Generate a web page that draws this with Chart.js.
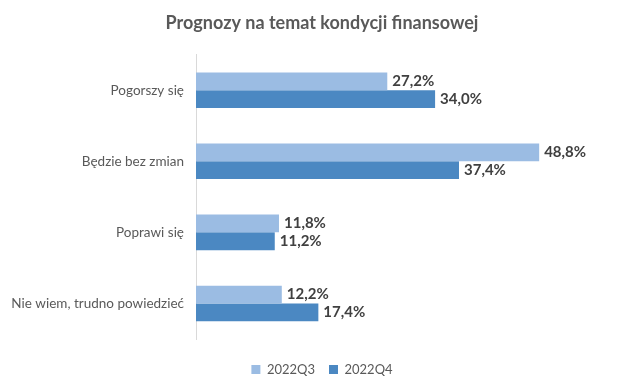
<!DOCTYPE html>
<html>
<head>
<meta charset="utf-8">
<script src="https://cdn.jsdelivr.net/npm/chart.js@4"></script>
<style>
  html, body { margin: 0; padding: 0; background: #fff; }
  #wrap { width: 640px; height: 392px; }
</style>
</head>
<body>
<div id="wrap"><canvas id="chart"></canvas></div>
<script>
// dane
const categories = ['Pogorszy się', 'Będzie bez zmian', 'Poprawi się', 'Nie wiem, trudno powiedzieć'];
const seriesNames = ['2022Q3', '2022Q4'];
const q3Values = [27.2, 48.8, 11.8, 12.2];
const q4Values = [34.0, 37.4, 11.2, 17.4];

const fmt = v => v.toFixed(1).replace('.', ',') + '%';

// etykiety wartości na końcu słupków
const valueLabels = {
  id: 'valueLabels',
  afterDatasetsDraw(chart) {
    const ctx = chart.ctx;
    ctx.save();
    ctx.font = 'bold 15px Lato, sans-serif';
    ctx.fillStyle = '#404040';
    ctx.textAlign = 'left';
    ctx.textBaseline = 'middle';
    chart.data.datasets.forEach((ds, i) => {
      chart.getDatasetMeta(i).data.forEach((bar, j) => {
        ctx.fillText(fmt(ds.data[j]), bar.x + 5, bar.y);
      });
    });
    ctx.restore();
  }
};

new Chart(document.getElementById('chart'), {
  type: 'bar',
  data: {
    labels: categories,
    datasets: [
      { label: seriesNames[0], data: q3Values, backgroundColor: '#9bbce3' },
      { label: seriesNames[1], data: q4Values, backgroundColor: '#4b88c2' }
    ]
  },
  options: {
    indexAxis: 'y',
    responsive: true,
    maintainAspectRatio: false,
    animation: false,
    layout: { padding: { left: 12, right: 8, top: 6, bottom: 6 } },
    datasets: { bar: { categoryPercentage: 0.5, barPercentage: 1.0 } },
    scales: {
      x: {
        min: 0,
        max: 62,
        display: true,
        afterFit(scale) { scale.height = 10; },
        grid: { display: false },
        border: { display: false },
        ticks: { display: false }
      },
      y: {
        afterFit(scale) { scale.width = 184; },
        grid: { display: false, drawTicks: false },
        border: { display: true, color: '#d9d9d9' },
        ticks: { color: '#595959', font: { family: 'Lato, sans-serif', size: 13.5 }, padding: 12 }
      }
    },
    plugins: {
      title: {
        display: true,
        text: 'Prognozy na temat kondycji finansowej',
        color: '#595959',
        font: { family: 'Lato, sans-serif', size: 18, weight: 'bold' },
        padding: { top: 6, bottom: 21 }
      },
      legend: {
        position: 'bottom',
        labels: {
          color: '#595959',
          font: { family: 'Lato, sans-serif', size: 13 },
          boxWidth: 9,
          boxHeight: 9,
          padding: 14
        }
      },
      tooltip: { enabled: false }
    }
  },
  plugins: [valueLabels]
});
</script>
</body>
</html>
